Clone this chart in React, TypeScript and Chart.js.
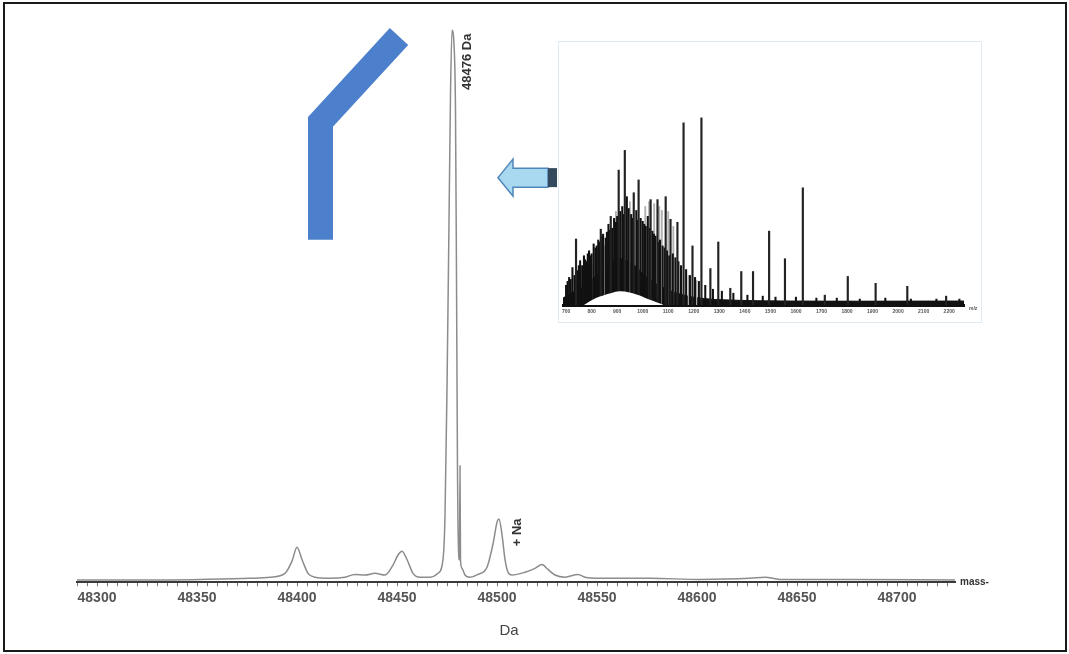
import React, { useEffect, useRef } from "react";
import { Chart, registerables } from "chart.js";
Chart.register(...registerables);

const FONT = "'Liberation Sans', Arial, sans-serif";

// ---------- main deconvoluted spectrum ----------
const massDa = [
  48290, 48326.5, 48351.5, 48376.5, 48386.5, 48394, 48397.5, 48400, 48402.5, 48405.5,
  48409, 48416.5, 48424, 48429, 48434, 48439, 48444, 48448, 48450.5, 48452.5,
  48455, 48458, 48461.5, 48466.5, 48470.5, 48473, 48474, 48475, 48476, 48476.75,
  48477.5, 48478.5, 48479.25, 48479.75, 48480.25, 48480.75, 48481.25, 48481.5, 48481.75, 48482.5,
  48484, 48486.5, 48490.5, 48495, 48498, 48500, 48501, 48502.5, 48504, 48505.5,
  48507.5, 48514, 48519, 48522.5, 48525.5, 48529, 48534, 48540.5, 48544, 48551.5,
  48576.5, 48601.5, 48626.5, 48634, 48641.5, 48676.5, 48729,
];
const intensity = [
  0.4, 0.4, 0.5, 0.7, 0.9, 1.6, 3.8, 6.3, 4.1, 1.6,
  0.9, 0.7, 0.9, 1.4, 1.3, 1.6, 1.3, 3.1, 4.9, 5.6,
  4.1, 1.6, 0.9, 0.9, 1.6, 4.1, 12, 35, 65, 88,
  99.6, 97, 85, 55, 20, 6, 4, 21, 4, 2.5,
  1.3, 0.9, 1.4, 2.7, 6.9, 10.8, 11.4, 8.6, 4.1, 1.8,
  1.3, 1.8, 2.5, 3.2, 2.3, 1.3, 0.9, 1.4, 0.9, 0.7,
  0.7, 0.5, 0.7, 0.9, 0.5, 0.5, 0.4,
];
const xMinDa = 48290;
const xMaxDa = 48729;
const xTickStepDa = 5;
const xLabelEveryDa = 50;
const peakLabel = "48476 Da";
const peakLabelPos = [48485, 93.9];
const adductLabel = "+ Na";
const adductLabelPos = [48510, 9.0];
const axisTitle = "Da";
const axisTitleDa = 48506;
const axisEndLabel = "mass-";

// blue bracket annotation (data space)
const bracketDa = [48411.75, 48411.75, 48451];
const bracketInt = [61.8, 83.06, 98.47];
// arrow annotation (data space)
const arrowTip = [48500.5, 73.0];
const arrowTailDa = 48530;

// ---------- inset raw m/z spectrum ----------
const insetMin = 688;
const insetMax = 2258;
const insetTickLabels = [700, 800, 900, 1000, 1100, 1200, 1300, 1400, 1500, 1600, 1700, 1800, 1900, 2000, 2100, 2200];
const insetPeakMz = [739, 836, 875, 906, 930, 965, 984, 1031, 1058, 1090, 1109, 1136, 1160, 1195, 1230, 1265, 1296, 1343, 1386, 1432, 1495, 1557, 1627, 1713, 1803, 1912, 2036, 2188];
const insetPeakInt = [67, 77, 90, 137, 157, 114, 127, 107, 107, 110, 87, 84, 185, 60, 190, 37, 64, 17, 34, 34, 75, 47, 119, 10, 29, 22, 19, 9];
const insetGreyMz = [800, 850, 895, 950, 1010, 1025, 1045, 1065, 1075, 1100, 1120, 1180, 1210];
const insetGreyInt = [40, 60, 95, 105, 100, 105, 103, 100, 96, 95, 80, 30, 25];
const insetNoiseMz = [700, 706, 712, 718, 725, 733, 740, 745, 750, 755, 763, 770, 775, 780, 785, 790, 795, 800, 808, 815, 820, 826, 833, 840, 845, 855, 860, 866, 872, 880, 888, 895, 900, 912, 920, 926, 938, 945, 955, 960, 975, 980, 992, 1000, 1006, 1012, 1020, 1028, 1038, 1044, 1050, 1060, 1068, 1078, 1086, 1095, 1104, 1118, 1128, 1140, 1150, 1170, 1185, 1205, 1220, 1245, 1275, 1310, 1355, 1410, 1470, 1520, 1600, 1680, 1760, 1850, 1950, 2050, 2150, 2240];
const insetNoiseInt = [20, 24, 28, 26, 38, 30, 34, 35, 40, 45, 40, 50, 46, 44, 52, 55, 50, 52, 62, 58, 60, 66, 64, 70, 72, 68, 74, 82, 76, 78, 88, 84, 90, 95, 100, 92, 110, 98, 92, 88, 96, 86, 88, 85, 82, 80, 90, 78, 75, 72, 70, 64, 66, 60, 58, 55, 50, 52, 48, 44, 40, 36, 30, 28, 24, 20, 16, 14, 12, 10, 9, 8, 8, 7, 7, 6, 7, 6, 6, 6];
const insetEnvMz = [688, 719, 758, 797, 836, 875, 906, 934, 973, 1012, 1070, 1148, 1226, 1343, 1616, 2258];
const insetEnvInt = [7, 12, 17, 25, 34, 42, 47, 45, 39, 29, 19, 11, 7, 5, 4, 4];
const insetHumpMz = [770, 817, 875, 914, 973, 1031, 1082];
const insetHumpInt = [0, 7, 12, 14, 11, 5, 0];

const zip = (xs: number[], ys: number[]) => xs.map((x, i) => ({ x, y: ys[i] }));

function MainChart() {
  const ref = useRef<HTMLCanvasElement>(null);
  useEffect(() => {
    const annot = {
      id: "annot",
      afterDatasetsDraw(chart: any) {
        const { ctx, chartArea } = chart;
        const x = chart.scales.x;
        const y = chart.scales.y;
        ctx.save();
        // arrow
        const tx = x.getPixelForValue(arrowTip[0]);
        const ty = y.getPixelForValue(arrowTip[1]);
        const ex = x.getPixelForValue(arrowTailDa);
        const headLen = 15, headH = 18.5, shaftH = 9.5, capW = 9;
        ctx.beginPath();
        ctx.moveTo(tx, ty);
        ctx.lineTo(tx + headLen, ty - headH);
        ctx.lineTo(tx + headLen, ty - shaftH);
        ctx.lineTo(ex - capW, ty - shaftH);
        ctx.lineTo(ex - capW, ty + shaftH);
        ctx.lineTo(tx + headLen, ty + shaftH);
        ctx.lineTo(tx + headLen, ty + headH);
        ctx.closePath();
        ctx.fillStyle = "#a9d8f1";
        ctx.fill();
        ctx.strokeStyle = "#4f86b8";
        ctx.lineWidth = 1.5;
        ctx.stroke();
        ctx.fillStyle = "#34495e";
        ctx.fillRect(ex - capW, ty - shaftH, capW, shaftH * 2);
        // rotated labels
        const rot = (txt: string, px: number, py: number) => {
          ctx.save();
          ctx.translate(px, py);
          ctx.rotate(-Math.PI / 2);
          ctx.font = `bold 13px ${FONT}`;
          ctx.fillStyle = "#333";
          ctx.textAlign = "center";
          ctx.textBaseline = "middle";
          ctx.fillText(txt, 0, 0);
          ctx.restore();
        };
        rot(peakLabel, x.getPixelForValue(peakLabelPos[0]), y.getPixelForValue(peakLabelPos[1]));
        rot(adductLabel, x.getPixelForValue(adductLabelPos[0]), y.getPixelForValue(adductLabelPos[1]));
        // axis title
        ctx.font = `15px ${FONT}`;
        ctx.fillStyle = "#444";
        ctx.textAlign = "center";
        ctx.textBaseline = "middle";
        ctx.fillText(axisTitle, x.getPixelForValue(axisTitleDa), chartArea.bottom + 49);
        // axis end label
        ctx.font = `bold 10px ${FONT}`;
        ctx.fillStyle = "#333";
        ctx.textAlign = "left";
        ctx.fillText(axisEndLabel, chartArea.right + 5, chartArea.bottom);
        ctx.restore();
      },
    };
    const chart = new Chart(ref.current!, {
      type: "line",
      data: {
        datasets: [
          {
            data: zip(massDa, intensity),
            borderColor: "#8c8c8c",
            borderWidth: 1.5,
            pointRadius: 0,
            cubicInterpolationMode: "monotone",
            fill: false,
            clip: false,
          } as any,
          {
            data: zip(bracketDa, bracketInt),
            borderColor: "#4d80cc",
            borderWidth: 25,
            borderJoinStyle: "miter",
            borderCapStyle: "butt",
            pointRadius: 0,
            tension: 0,
            fill: false,
            clip: false,
          } as any,
        ],
      },
      options: {
        animation: false,
        responsive: false,
        devicePixelRatio: 1,
        layout: { padding: { left: 77, right: 114, top: 28, bottom: 43 } },
        plugins: { legend: { display: false }, tooltip: { enabled: false } },
        scales: {
          x: {
            type: "linear",
            min: xMinDa,
            max: xMaxDa,
            border: { display: true, color: "#3a3a3a", width: 2 },
            grid: { drawOnChartArea: false, drawTicks: true, tickLength: 4, color: "#777" },
            ticks: {
              stepSize: xTickStepDa,
              autoSkip: false,
              maxRotation: 0,
              includeBounds: false,
              padding: 4,
              color: "#555",
              font: { family: FONT, size: 14, weight: "bold" },
              callback: (v: any) => (Number(v) % xLabelEveryDa === 0 ? String(v) : ""),
            },
          } as any,
          y: { display: false, min: 0, max: 100 },
        },
      },
      plugins: [annot],
    });
    return () => chart.destroy();
  }, []);
  return <canvas ref={ref} width={1069} height={654} style={{ position: "absolute", left: 0, top: 0, width: 1069, height: 654 }} />;
}

function InsetChart() {
  const ref = useRef<HTMLCanvasElement>(null);
  useEffect(() => {
    const endLabel = {
      id: "endLabel",
      afterDraw(chart: any) {
        const { ctx, chartArea } = chart;
        ctx.save();
        ctx.font = `bold 5px ${FONT}`;
        ctx.fillStyle = "#555";
        ctx.textBaseline = "middle";
        ctx.fillText("m/z", chartArea.right + 5, chartArea.bottom + 4);
        ctx.restore();
      },
    };
    const bar = (mz: number[], v: number[], color: string, order: number, w: number) =>
      ({
        type: "bar",
        data: zip(mz, v),
        backgroundColor: color,
        barThickness: w,
        grouped: false,
        order,
      } as any);
    const chart = new Chart(ref.current!, {
      type: "line",
      data: {
        datasets: [
          {
            data: zip(insetHumpMz, insetHumpInt),
            borderColor: "#ffffff",
            borderWidth: 0,
            backgroundColor: "#ffffff",
            fill: "origin",
            pointRadius: 0,
            tension: 0.4,
            order: 1,
          } as any,
          bar(insetPeakMz, insetPeakInt, "#222", 2, 1.5),
          bar(insetNoiseMz, insetNoiseInt, "#111", 3, 1.4),
          bar(insetGreyMz, insetGreyInt, "#b0b0b0", 4, 1.2),
          {
            data: zip(insetEnvMz, insetEnvInt),
            borderColor: "#111",
            borderWidth: 1,
            backgroundColor: "#111",
            fill: "origin",
            pointRadius: 0,
            tension: 0.4,
            order: 5,
          } as any,
        ],
      },
      options: {
        animation: false,
        responsive: false,
        devicePixelRatio: 1,
        layout: { padding: { left: 4, right: 17, top: 5, bottom: 5 } },
        plugins: { legend: { display: false }, tooltip: { enabled: false } },
        scales: {
          x: {
            type: "linear",
            min: insetMin,
            max: insetMax,
            offset: false,
            z: 1,
            border: { display: true, color: "#111", width: 3 },
            grid: { drawOnChartArea: false, drawTicks: true, tickLength: 2, color: "#444", offset: false },
            afterBuildTicks: (scale: any) => {
              scale.ticks = insetTickLabels.map((v) => ({ value: v }));
            },
            ticks: {
              autoSkip: false,
              maxRotation: 0,
              padding: 2,
              color: "#555",
              font: { family: FONT, size: 5, weight: "bold" },
              callback: (v: any) => String(v),
            },
          } as any,
          y: { display: false, min: 0, max: 262 },
        },
      },
      plugins: [endLabel],
    });
    return () => chart.destroy();
  }, []);
  return (
    <div style={{ position: "absolute", left: 558, top: 41, width: 424, height: 282, boxSizing: "border-box", border: "1px solid #e2eaf1", background: "#fff" }}>
      <canvas ref={ref} width={422} height={280} style={{ position: "absolute", left: 0, top: 0, width: 422, height: 280 }} />
    </div>
  );
}

export default function App() {
  return (
    <div style={{ position: "fixed", left: 0, top: 0, width: 1069, height: 654, background: "#fff", overflow: "hidden", fontFamily: FONT }}>
      <MainChart />
      <InsetChart />
      <div style={{ position: "absolute", left: 3, top: 2, width: 1064, height: 650, boxSizing: "border-box", border: "2px solid #1a1a1a", pointerEvents: "none" }} />
    </div>
  );
}
